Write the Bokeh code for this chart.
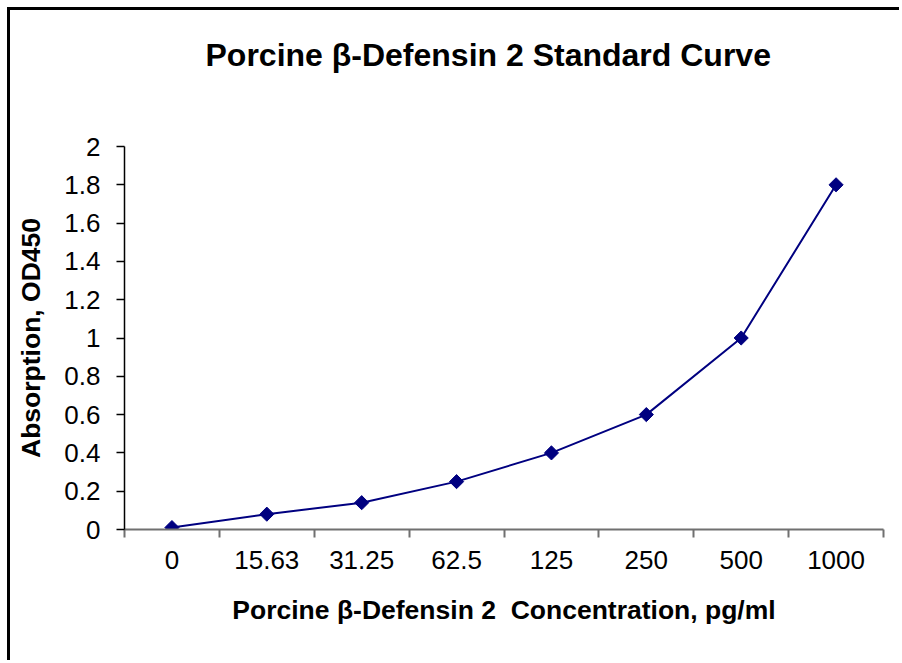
import numpy as np
from bokeh.plotting import figure
from bokeh.models import Range1d, FixedTicker, NumeralTickFormatter, Title
from bokeh.embed import file_html
from bokeh.resources import INLINE

categories = ["0", "15.63", "31.25", "62.5", "125", "250", "500", "1000"]
od450 = [0.01, 0.08, 0.14, 0.25, 0.40, 0.60, 1.00, 1.80]
y_ticks = [0, 0.2, 0.4, 0.6, 0.8, 1.0, 1.2, 1.4, 1.6, 1.8, 2.0]
title_text = "Porcine \u03b2-Defensin 2 Standard Curve"
x_title = "Porcine \u03b2-Defensin 2\u00a0 Concentration, pg/ml"
y_title = "Absorption, OD450"

n = len(categories)
xpos = list(np.arange(n) + 0.5)

FONT = "Liberation Sans"
W, H = 892, 653

p = figure(width=W, height=H, output_backend="svg", toolbar_location=None,
           x_range=Range1d(0, n), y_range=Range1d(0, 2.0),
           min_border_left=114, min_border_right=19, min_border_top=136,
           min_border_bottom=134)
p.styles = {"margin-left": "10px", "margin-top": "10px",
            "box-shadow": "-3px -3px 0px 0px black"}
p.outline_line_color = None
p.xgrid.visible = False
p.ygrid.visible = False
p.background_fill_color = "white"
p.border_fill_color = "white"

# spacer panel between the frame and the title
spacer = Title(text=" ", text_font=FONT, text_font_size="1px", standoff=71)
p.add_layout(spacer, "above")
t = Title(text=title_text, align="left", text_font=FONT,
          text_font_size="32px", text_font_style="bold", text_color="black",
          standoff=0, offset=81)
p.add_layout(t, "above")

p.line(xpos, od450, line_color="#000080", line_width=2)
p.scatter(xpos, od450, marker="square", angle=np.pi / 4, size=10,
          fill_color="#000080", line_color="#000080")

xa = p.xaxis[0]
xa.ticker = FixedTicker(ticks=xpos, minor_ticks=list(range(n + 1)))
xa.major_label_overrides = {float(x): c for x, c in zip(xpos, categories)}
xa.major_tick_out = 0
xa.major_tick_in = 0
xa.minor_tick_out = 8
xa.minor_tick_in = 0
xa.axis_line_color = "#707070"
xa.minor_tick_line_color = "#707070"
xa.axis_line_width = 2
xa.minor_tick_line_width = 2
xa.major_label_text_font = FONT
xa.major_label_text_font_size = "26px"
xa.major_label_text_color = "black"
xa.major_label_standoff = 13
xa.axis_label = x_title
xa.axis_label_text_font = FONT
xa.axis_label_text_font_size = "26.5px"
xa.axis_label_text_font_style = "bold"
xa.axis_label_text_color = "black"
xa.axis_label_standoff = 23

ya = p.yaxis[0]
ya.ticker = FixedTicker(ticks=y_ticks, minor_ticks=[])
ya.formatter = NumeralTickFormatter(format="0.[0]")
ya.major_tick_out = 8
ya.major_tick_in = 0
ya.axis_line_color = "black"
ya.major_tick_line_color = "black"
ya.axis_line_width = 1.5
ya.major_tick_line_width = 1.5
ya.major_label_text_font = FONT
ya.major_label_text_font_size = "26px"
ya.major_label_text_color = "black"
ya.major_label_standoff = 16
ya.axis_label = y_title
ya.axis_label_text_font = FONT
ya.axis_label_text_font_size = "26.5px"
ya.axis_label_text_font_style = "bold"
ya.axis_label_text_color = "black"
ya.axis_label_standoff = 15

open("out.html", "w").write(file_html(p, INLINE))
